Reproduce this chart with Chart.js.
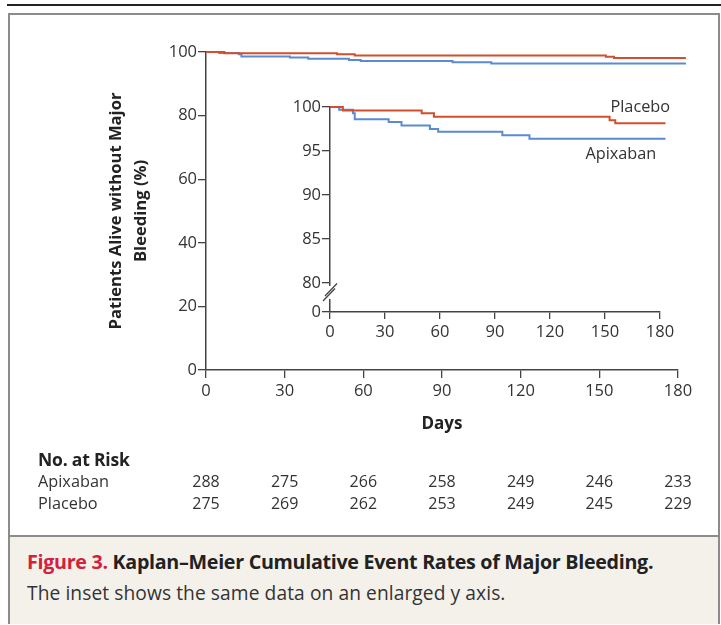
<!DOCTYPE html>
<html>
<head>
<meta charset="utf-8">
<script src="https://cdn.jsdelivr.net/npm/chart.js@4.4.1/dist/chart.umd.min.js"></script>
<style>
  html, body { margin: 0; padding: 0; background: #fff; }
  #fig { position: relative; width: 721px; height: 625px; font-family: "Open Sans", sans-serif; color: #2b2b2b; overflow: hidden; }
  #rule { position: absolute; left: 7px; top: 4px; width: 714px; height: 2px; background: #222; }
  #box { position: absolute; left: 8px; top: 13px; width: 708px; height: 607px; border: 2px solid #8c8c8c; }
  #caption { position: absolute; left: 10px; top: 535px; width: 708px; height: 87px; background: #f4f1eb; border-top: 2px solid #8c8c8c; }
  #caption .l1 { position: absolute; left: 17px; top: 13px; font-size: 19.7px; line-height: 24px; font-weight: bold; color: #222; white-space: nowrap; letter-spacing: -0.3px; }
  #caption .l1 span { color: #d3213c; }
  #caption .l2 { position: absolute; left: 17px; top: 44px; font-size: 19.2px; line-height: 24px; color: #333; white-space: nowrap; letter-spacing: 0.08px; }
  canvas { position: absolute; }
  #mainChart { left: 0; top: 0; }
  #insetChart { left: 250px; top: 80px; }
  .risk { position: absolute; font-size: 16.3px; line-height: 22px; color: #333; white-space: nowrap; }
  .risk.head { font-weight: bold; font-size: 17.5px; color: #222; letter-spacing: -0.2px; }
  .num { transform: translateX(-50%); font-size: 16px; }
</style>
</head>
<body>
<div id="fig">
  <div id="rule"></div>
  <div id="box"></div>
  <canvas id="mainChart" width="721" height="450"></canvas>
  <canvas id="insetChart" width="450" height="270"></canvas>
  <div class="risk head" style="left:38px; top:448px;">No. at Risk</div>
  <div class="risk" style="left:38px; top:470px;">Apixaban</div>
  <div class="risk" style="left:38px; top:492px;">Placebo</div>
  <div id="caption">
    <div class="l1"><span>Figure 3.</span> Kaplan–Meier Cumulative Event Rates of Major Bleeding.</div>
    <div class="l2">The inset shows the same data on an enlarged y axis.</div>
  </div>
</div>
<script>
// Kaplan-Meier steps (day of drop, % free of major bleeding after it)
const apixabanDays = [0, 5, 12.5, 13.5, 32, 39, 54.5, 59, 94, 108.8, 183];
const apixabanPct  = [100, 99.7, 99.3, 98.6, 98.3, 97.9, 97.5, 97.2, 96.8, 96.4, 96.4];
const placeboDays  = [0, 7, 50, 56.7, 152.5, 155.6, 183];
const placeboPct   = [100, 99.6, 99.3, 98.9, 98.5, 98.15, 98.15];

const dayTicks      = [0, 30, 60, 90, 120, 150, 180];
const mainPctTicks  = [0, 20, 40, 60, 80, 100];
const insetPctTicks = [80, 85, 90, 95, 100];

const apixabanAtRisk = [288, 275, 266, 258, 249, 246, 233];
const placeboAtRisk  = [275, 269, 262, 253, 249, 245, 229];

const RED = '#d24e2d';
const BLUE = '#5a8bd2';
const AXIS = '#444';
const FONT = '"Open Sans", sans-serif';

Chart.defaults.font.family = FONT;
Chart.defaults.color = '#333';

function toPoints(days, pct) {
    return days.map((d, i) => ({ x: d, y: pct[i] }));
}

function makeDatasets() {
    // placebo first so it is drawn on top
    return [
        { label: 'Placebo', data: toPoints(placeboDays, placeboPct), borderColor: RED },
        { label: 'Apixaban', data: toPoints(apixabanDays, apixabanPct), borderColor: BLUE }
    ].map(ds => Object.assign(ds, {
        stepped: 'before',
        borderWidth: 2,
        pointRadius: 0,
        fill: false,
        clip: false
    }));
}

function setTicks(values) {
    return scale => { scale.ticks = values.map(v => ({ value: v })); };
}

const mainChart = new Chart(document.getElementById('mainChart'), {
    type: 'line',
    data: { datasets: makeDatasets() },
    options: {
        responsive: false,
        animation: false,
        events: [],
        layout: { padding: { top: 52, right: 43, left: 0, bottom: 0 } },
        plugins: { legend: { display: false }, tooltip: { enabled: false } },
        scales: {
            x: {
                type: 'linear',
                min: 0,
                max: 180,
                afterBuildTicks: setTicks(dayTicks),
                afterFit: s => { s.height = 80; },
                ticks: { font: { size: 16.5 }, padding: 3, maxRotation: 0 },
                grid: { drawOnChartArea: false, drawTicks: true, tickLength: 8, color: AXIS, lineWidth: 1.3 },
                border: { display: true, color: AXIS, width: 1.5 },
                title: {
                    display: true,
                    text: 'Days',
                    color: '#222',
                    font: { size: 17, weight: 'bold', lineHeight: 1.2 },
                    padding: { top: 0, bottom: 16 }
                }
            },
            y: {
                min: 0,
                max: 100,
                afterBuildTicks: setTicks(mainPctTicks),
                afterFit: s => { s.width = 206; },
                ticks: { font: { size: 16.5 }, padding: 1 },
                grid: { drawOnChartArea: false, drawTicks: true, tickLength: 8, color: AXIS, lineWidth: 1.3 },
                border: { display: true, color: AXIS, width: 1.5 },
                title: {
                    display: true,
                    text: ['Patients Alive without Major', 'Bleeding (%)'],
                    color: '#222',
                    font: { size: 16.6, weight: 'bold', lineHeight: 1.5 },
                    padding: { top: 104, bottom: 0 }
                }
            }
        }
    }
});

// numbers at risk under each day tick
const xScale = mainChart.scales.x;
const fig = document.getElementById('fig');
[[apixabanAtRisk, 470], [placeboAtRisk, 492]].forEach(([row, top]) => {
    row.forEach((n, i) => {
        const el = document.createElement('div');
        el.className = 'risk num';
        el.style.left = xScale.getPixelForValue(dayTicks[i]) + 'px';
        el.style.top = top + 'px';
        el.textContent = n;
        fig.appendChild(el);
    });
});

// broken y axis on the inset: 0 sits just below 80
const insetFloor = 76.7;

const axisBreak = {
    id: 'axisBreak',
    afterDraw(chart) {
        const { ctx, chartArea } = chart;
        const x0 = chartArea.left;
        const yb = chart.scales.y.getPixelForValue(80);
        ctx.save();
        ctx.fillStyle = '#fff';
        ctx.fillRect(x0 - 3, yb + 3, 6, 13);
        ctx.strokeStyle = AXIS;
        ctx.lineWidth = 1.3;
        ctx.beginPath();
        ctx.moveTo(x0 - 5, yb + 13);
        ctx.lineTo(x0 + 7, yb + 0.5);
        ctx.moveTo(x0 - 7, yb + 18);
        ctx.lineTo(x0 + 5, yb + 5.5);
        ctx.stroke();
        ctx.restore();
    }
};

const seriesLabels = {
    id: 'seriesLabels',
    afterDatasetsDraw(chart) {
        const { ctx, scales: { x, y } } = chart;
        ctx.save();
        ctx.font = '16.3px ' + FONT;
        ctx.fillStyle = '#333';
        ctx.textAlign = 'right';
        ctx.textBaseline = 'middle';
        ctx.fillText('Placebo', x.getPixelForValue(185.5), y.getPixelForValue(100));
        ctx.fillText('Apixaban', x.getPixelForValue(178), y.getPixelForValue(94.6));
        ctx.restore();
    }
};

new Chart(document.getElementById('insetChart'), {
    type: 'line',
    data: { datasets: makeDatasets() },
    plugins: [axisBreak, seriesLabels],
    options: {
        responsive: false,
        animation: false,
        events: [],
        layout: { padding: { top: 27, right: 40, left: 0, bottom: 0 } },
        plugins: { legend: { display: false }, tooltip: { enabled: false } },
        scales: {
            x: {
                type: 'linear',
                min: 0,
                max: 180,
                afterBuildTicks: setTicks(dayTicks),
                afterFit: s => { s.height = 38; },
                ticks: { font: { size: 16.5 }, padding: 3, maxRotation: 0 },
                grid: { drawOnChartArea: false, drawTicks: true, tickLength: 7, color: AXIS, lineWidth: 1.3 },
                border: { display: true, color: AXIS, width: 1.5 }
            },
            y: {
                min: insetFloor,
                max: 100,
                afterBuildTicks: setTicks([insetFloor, ...insetPctTicks]),
                afterFit: s => { s.width = 80; },
                ticks: {
                    font: { size: 16.5 },
                    padding: 1,
                    callback: v => (v < 80 ? '0' : v)
                },
                grid: { drawOnChartArea: false, drawTicks: true, tickLength: 8, color: AXIS, lineWidth: 1.3 },
                border: { display: true, color: AXIS, width: 1.5 }
            }
        }
    }
});
</script>
</body>
</html>
